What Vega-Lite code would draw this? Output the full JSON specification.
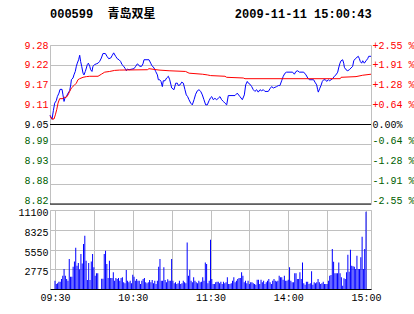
{
  "$schema": "https://vega.github.io/schema/vega-lite/v6.json",
  "background": "#ffffff",
  "padding": {"left": 17, "top": 7, "right": 0, "bottom": 0},
  "config": {
    "font": "Liberation Mono",
    "view": {"stroke": "#c0c0c0"},
    "axis": {"gridColor": "#c0c0c0", "gridWidth": 1, "labelFont": "Liberation Mono", "labelFontSize": 10, "ticks": false, "domain": false, "title": null, "labelColor": "#000000"}
  },
  "datasets": {
    "price": [
      {"m":0,"p":9.077},{"m":1.5,"p":9.065},{"m":2.5,"p":9.09},{"m":3.5,"p":9.112},{"m":4.7,"p":9.119},{"m":5.5,"p":9.131},{"m":6.7,"p":9.141},{"m":7.5,"p":9.152},{"m":9,"p":9.152},{"m":9.7,"p":9.136},{"m":10.5,"p":9.117},{"m":11.2,"p":9.127},{"m":12.2,"p":9.131},{"m":13.5,"p":9.141},{"m":14.7,"p":9.148},{"m":15.5,"p":9.165},{"m":16,"p":9.18},{"m":17.2,"p":9.185},{"m":17.9,"p":9.194},{"m":18.9,"p":9.204},{"m":19.7,"p":9.219},{"m":20.4,"p":9.228},{"m":21.4,"p":9.238},{"m":22.2,"p":9.251},{"m":22.9,"p":9.233},{"m":23.7,"p":9.219},{"m":24.7,"p":9.199},{"m":25.4,"p":9.194},{"m":26.4,"p":9.204},{"m":27.2,"p":9.214},{"m":27.9,"p":9.224},{"m":28.7,"p":9.228},{"m":29.7,"p":9.219},{"m":30.4,"p":9.209},{"m":31.4,"p":9.204},{"m":32.1,"p":9.219},{"m":33.4,"p":9.224},{"m":34.6,"p":9.226},{"m":35.9,"p":9.228},{"m":37.1,"p":9.233},{"m":38.4,"p":9.243},{"m":39.6,"p":9.256},{"m":41.4,"p":9.256},{"m":42.6,"p":9.248},{"m":43.9,"p":9.241},{"m":45.4,"p":9.243},{"m":46.6,"p":9.251},{"m":47.6,"p":9.258},{"m":49.1,"p":9.248},{"m":50.3,"p":9.241},{"m":51.6,"p":9.238},{"m":52.8,"p":9.233},{"m":53.8,"p":9.224},{"m":55.1,"p":9.219},{"m":56.3,"p":9.212},{"m":57.1,"p":9.206},{"m":57.8,"p":9.211},{"m":59.1,"p":9.209},{"m":62.8,"p":9.212},{"m":64.1,"p":9.219},{"m":65.3,"p":9.226},{"m":66.1,"p":9.224},{"m":67,"p":9.219},{"m":68.5,"p":9.219},{"m":69.5,"p":9.226},{"m":70.3,"p":9.238},{"m":74,"p":9.238},{"m":75.3,"p":9.228},{"m":76,"p":9.222},{"m":77.8,"p":9.214},{"m":79,"p":9.204},{"m":80.3,"p":9.194},{"m":81,"p":9.18},{"m":82,"p":9.18},{"m":83,"p":9.175},{"m":84,"p":9.16},{"m":84.7,"p":9.177},{"m":86,"p":9.177},{"m":87.2,"p":9.185},{"m":88.5,"p":9.19},{"m":89.5,"p":9.18},{"m":91,"p":9.156},{"m":92.7,"p":9.151},{"m":94,"p":9.17},{"m":95.2,"p":9.17},{"m":96,"p":9.163},{"m":97.2,"p":9.165},{"m":98.5,"p":9.173},{"m":99.7,"p":9.17},{"m":100.9,"p":9.151},{"m":101.9,"p":9.136},{"m":102.9,"p":9.131},{"m":103.9,"p":9.122},{"m":105.2,"p":9.112},{"m":106.4,"p":9.107},{"m":107.7,"p":9.122},{"m":108.9,"p":9.138},{"m":110.2,"p":9.148},{"m":111.4,"p":9.151},{"m":112.7,"p":9.146},{"m":113.9,"p":9.136},{"m":115.1,"p":9.122},{"m":116.4,"p":9.107},{"m":117.6,"p":9.107},{"m":118.9,"p":9.119},{"m":120.1,"p":9.128},{"m":120.9,"p":9.131},{"m":122.1,"p":9.122},{"m":123.3,"p":9.126},{"m":124.6,"p":9.122},{"m":125.8,"p":9.126},{"m":127.1,"p":9.131},{"m":128.3,"p":9.122},{"m":129.6,"p":9.117},{"m":130.8,"p":9.112},{"m":132.1,"p":9.107},{"m":133.3,"p":9.134},{"m":138.3,"p":9.134},{"m":140,"p":9.141},{"m":142,"p":9.131},{"m":143.8,"p":9.122},{"m":145.3,"p":9.136},{"m":146.3,"p":9.165},{"m":147.5,"p":9.175},{"m":148.3,"p":9.17},{"m":149.5,"p":9.167},{"m":150.8,"p":9.16},{"m":152,"p":9.151},{"m":153.2,"p":9.146},{"m":154.5,"p":9.151},{"m":155.7,"p":9.144},{"m":157,"p":9.151},{"m":158.2,"p":9.148},{"m":159.5,"p":9.151},{"m":160.7,"p":9.146},{"m":163.2,"p":9.146},{"m":164.5,"p":9.154},{"m":165.7,"p":9.16},{"m":167,"p":9.156},{"m":168.2,"p":9.158},{"m":169.4,"p":9.16},{"m":170.7,"p":9.163},{"m":171.9,"p":9.163},{"m":173.2,"p":9.177},{"m":174.4,"p":9.19},{"m":175.7,"p":9.199},{"m":176.9,"p":9.202},{"m":181.4,"p":9.202},{"m":182.7,"p":9.196},{"m":183.9,"p":9.204},{"m":185.2,"p":9.206},{"m":186.4,"p":9.202},{"m":189.7,"p":9.202},{"m":191.4,"p":9.194},{"m":192.7,"p":9.185},{"m":193.9,"p":9.18},{"m":197.1,"p":9.18},{"m":198.1,"p":9.173},{"m":199.4,"p":9.165},{"m":200.1,"p":9.151},{"m":200.6,"p":9.144},{"m":201.6,"p":9.154},{"m":202.6,"p":9.163},{"m":203.6,"p":9.175},{"m":204.6,"p":9.18},{"m":205.9,"p":9.18},{"m":206.9,"p":9.175},{"m":208.1,"p":9.18},{"m":209.1,"p":9.177},{"m":210.1,"p":9.18},{"m":211.3,"p":9.183},{"m":212.6,"p":9.19},{"m":213.8,"p":9.194},{"m":215.1,"p":9.202},{"m":215.8,"p":9.214},{"m":216.8,"p":9.228},{"m":217.6,"p":9.235},{"m":218.8,"p":9.238},{"m":219.6,"p":9.228},{"m":220.1,"p":9.216},{"m":221.3,"p":9.209},{"m":222.6,"p":9.206},{"m":223.8,"p":9.209},{"m":225.1,"p":9.214},{"m":226.3,"p":9.219},{"m":227.1,"p":9.235},{"m":228.3,"p":9.241},{"m":229.5,"p":9.245},{"m":230.5,"p":9.248},{"m":231.3,"p":9.241},{"m":232,"p":9.233},{"m":233,"p":9.228},{"m":233.8,"p":9.235},{"m":235,"p":9.228},{"m":236.3,"p":9.235},{"m":237.5,"p":9.241},{"m":238.3,"p":9.248},{"m":240,"p":9.248}
    ],
    "avg": [
      {"m":0,"a":9.075},{"m":1.5,"a":9.066},{"m":3,"a":9.066},{"m":4,"a":9.078},{"m":5,"a":9.093},{"m":6,"a":9.112},{"m":7.2,"a":9.125},{"m":9.7,"a":9.125},{"m":10.5,"a":9.129},{"m":12.2,"a":9.129},{"m":13.5,"a":9.136},{"m":14.7,"a":9.146},{"m":16,"a":9.156},{"m":17.9,"a":9.163},{"m":19.7,"a":9.17},{"m":20.9,"a":9.18},{"m":22.2,"a":9.183},{"m":24.7,"a":9.187},{"m":27.2,"a":9.189},{"m":29.7,"a":9.19},{"m":35.9,"a":9.19},{"m":38.4,"a":9.196},{"m":40.9,"a":9.202},{"m":44.6,"a":9.204},{"m":48.3,"a":9.207},{"m":52.1,"a":9.208},{"m":72.8,"a":9.209},{"m":74,"a":9.212},{"m":81.5,"a":9.208},{"m":89,"a":9.206},{"m":101.4,"a":9.204},{"m":104,"a":9.199},{"m":113.9,"a":9.196},{"m":117.6,"a":9.194},{"m":120.1,"a":9.192},{"m":130.8,"a":9.19},{"m":132.1,"a":9.187},{"m":144.5,"a":9.185},{"m":145.8,"a":9.183},{"m":217,"a":9.183},{"m":217.6,"a":9.187},{"m":228.8,"a":9.189},{"m":233.8,"a":9.193},{"m":240,"a":9.196}
    ],
    "vol": [
      {"m":0,"v":1170},{"m":1,"v":700},{"m":2,"v":800},{"m":3,"v":1030},{"m":4,"v":1030},{"m":5,"v":1400},{"m":6,"v":1870},{"m":7,"v":2800},{"m":8,"v":1870},{"m":9,"v":1400},{"m":10,"v":1170},{"m":11,"v":4200},{"m":12,"v":1730},{"m":13,"v":1730},{"m":14,"v":3140},{"m":15,"v":3880},{"m":16,"v":5800},{"m":17,"v":3280},{"m":18,"v":3650},{"m":19,"v":2760},{"m":20,"v":4910},{"m":21,"v":3600},{"m":22,"v":6320},{"m":23,"v":7490},{"m":24,"v":3980},{"m":25,"v":1260},{"m":26,"v":3650},{"m":27,"v":1260},{"m":28,"v":3880},{"m":29,"v":4910},{"m":30,"v":3040},{"m":31,"v":1870},{"m":32,"v":2200},{"m":33,"v":2200},{"m":34,"v":0},{"m":35,"v":0},{"m":36,"v":1450},{"m":37,"v":1450},{"m":38,"v":4910},{"m":39,"v":5380},{"m":40,"v":3510},{"m":41,"v":1540},{"m":42,"v":3980},{"m":43,"v":1540},{"m":44,"v":1540},{"m":45,"v":2340},{"m":46,"v":1170},{"m":47,"v":1540},{"m":48,"v":1400},{"m":49,"v":1540},{"m":50,"v":1170},{"m":51,"v":1540},{"m":52,"v":1640},{"m":53,"v":940},{"m":54,"v":800},{"m":55,"v":2670},{"m":56,"v":1170},{"m":57,"v":940},{"m":58,"v":1170},{"m":59,"v":800},
      {"m":60,"v":2010},{"m":61,"v":1730},{"m":62,"v":1170},{"m":63,"v":1400},{"m":64,"v":1170},{"m":65,"v":1170},{"m":66,"v":700},{"m":67,"v":1170},{"m":68,"v":1400},{"m":69,"v":1540},{"m":70,"v":940},{"m":71,"v":800},{"m":72,"v":940},{"m":73,"v":1260},{"m":74,"v":940},{"m":75,"v":1260},{"m":76,"v":800},{"m":77,"v":1170},{"m":78,"v":700},{"m":79,"v":1170},{"m":80,"v":3140},{"m":81,"v":4210},{"m":82,"v":1170},{"m":83,"v":1170},{"m":84,"v":3040},{"m":85,"v":1260},{"m":86,"v":940},{"m":87,"v":1360},{"m":88,"v":1170},{"m":89,"v":1170},{"m":90,"v":4210},{"m":91,"v":1170},{"m":92,"v":800},{"m":93,"v":940},{"m":94,"v":700},{"m":95,"v":800},{"m":96,"v":1170},{"m":97,"v":700},{"m":98,"v":800},{"m":99,"v":1170},{"m":100,"v":940},{"m":101,"v":800},{"m":102,"v":6550},{"m":103,"v":1870},{"m":104,"v":2710},{"m":105,"v":1170},{"m":106,"v":940},{"m":107,"v":1640},{"m":108,"v":1170},{"m":109,"v":940},{"m":110,"v":800},{"m":111,"v":1170},{"m":112,"v":940},{"m":113,"v":1030},{"m":114,"v":1640},{"m":115,"v":1170},{"m":116,"v":3740},{"m":117,"v":3510},{"m":118,"v":800},{"m":119,"v":1170},
      {"m":120,"v":6930},{"m":121,"v":1400},{"m":122,"v":700},{"m":123,"v":700},{"m":124,"v":940},{"m":125,"v":1030},{"m":126,"v":1030},{"m":127,"v":800},{"m":128,"v":1030},{"m":129,"v":700},{"m":130,"v":1030},{"m":131,"v":800},{"m":132,"v":940},{"m":133,"v":1640},{"m":134,"v":700},{"m":135,"v":700},{"m":136,"v":800},{"m":137,"v":1170},{"m":138,"v":1640},{"m":139,"v":940},{"m":140,"v":1170},{"m":141,"v":1400},{"m":142,"v":1540},{"m":143,"v":1540},{"m":144,"v":2340},{"m":145,"v":1870},{"m":146,"v":940},{"m":147,"v":1170},{"m":148,"v":800},{"m":149,"v":1170},{"m":150,"v":700},{"m":151,"v":940},{"m":152,"v":940},{"m":153,"v":800},{"m":154,"v":700},{"m":155,"v":600},{"m":156,"v":1310},{"m":157,"v":1310},{"m":158,"v":700},{"m":159,"v":1310},{"m":160,"v":940},{"m":161,"v":1170},{"m":162,"v":700},{"m":163,"v":940},{"m":164,"v":1170},{"m":165,"v":1400},{"m":166,"v":940},{"m":167,"v":700},{"m":168,"v":1170},{"m":169,"v":1400},{"m":170,"v":1170},{"m":171,"v":1060},{"m":172,"v":1170},{"m":173,"v":1870},{"m":174,"v":1640},{"m":175,"v":1640},{"m":176,"v":1310},{"m":177,"v":1870},{"m":178,"v":1170},{"m":179,"v":1170},
      {"m":180,"v":1310},{"m":181,"v":3040},{"m":182,"v":1170},{"m":183,"v":940},{"m":184,"v":940},{"m":185,"v":2200},{"m":186,"v":2200},{"m":187,"v":1400},{"m":188,"v":1400},{"m":189,"v":2340},{"m":190,"v":1400},{"m":191,"v":3740},{"m":192,"v":800},{"m":193,"v":610},{"m":194,"v":1030},{"m":195,"v":1030},{"m":196,"v":700},{"m":197,"v":800},{"m":198,"v":2480},{"m":199,"v":610},{"m":200,"v":940},{"m":201,"v":800},{"m":202,"v":940},{"m":203,"v":1400},{"m":204,"v":940},{"m":205,"v":700},{"m":206,"v":800},{"m":207,"v":1030},{"m":208,"v":700},{"m":209,"v":700},{"m":210,"v":700},{"m":211,"v":1170},{"m":212,"v":1870},{"m":213,"v":1970},{"m":214,"v":5620},{"m":215,"v":3840},{"m":216,"v":2200},{"m":217,"v":2200},{"m":218,"v":2200},{"m":219,"v":3740},{"m":220,"v":2200},{"m":221,"v":1640},{"m":222,"v":470},{"m":223,"v":1500},{"m":224,"v":1400},{"m":225,"v":2340},{"m":226,"v":4820},{"m":227,"v":2430},{"m":228,"v":5520},{"m":229,"v":3280},{"m":230,"v":3180},{"m":231,"v":3140},{"m":232,"v":2810},{"m":233,"v":4680},{"m":234,"v":2810},{"m":235,"v":2810},{"m":236,"v":4450},{"m":237,"v":7350},{"m":238,"v":2810},{"m":239,"v":5620},{"m":240,"v":10860}
    ]
  },
  "vconcat": [
    {
      "width": 321,
      "height": 159,
      "title": {
        "text": "000599\u00a0\u00a0青岛双星\u00a0\u00a0\u00a0\u00a0\u00a0\u00a0\u00a0\u00a0\u00a0\u00a0\u00a02009-11-11\u00a015:00:43",
        "anchor": "start",
        "frame": "group",
        "font": "Liberation Mono, Noto Sans CJK SC",
        "fontSize": 12,
        "fontWeight": "bold",
        "color": "#000000",
        "offset": 19
      },
      "resolve": {"axis": {"y": "independent"}},
      "layer": [
        {
          "data": {"values": [{}]},
          "mark": {"type": "rule", "color": "#000000", "strokeWidth": 1},
          "encoding": {"y": {"datum": 9.05, "type": "quantitative", "scale": {"domain": [8.8192, 9.2808], "nice": false, "zero": false}, "axis": null}}
        },
        {
          "data": {"values": [{}]},
          "mark": {"type": "rule", "color": "#000000", "strokeWidth": 1},
          "encoding": {"y": {"datum": 8.8192, "type": "quantitative", "axis": null}}
        },
        {
          "data": {"name": "price"},
          "mark": {"type": "line", "color": "#0000ff", "strokeWidth": 1},
          "encoding": {
            "x": {"field": "m", "type": "quantitative", "scale": {"domain": [0, 240], "nice": false, "zero": false},
                  "axis": {"values": [0, 30, 60, 90, 120, 150, 180, 210, 240], "labels": false, "grid": true, "domain": false, "ticks": false, "labelPadding": 0}},
            "y": {"field": "p", "type": "quantitative",
                  "axis": {"orient": "left", "values": [8.8192, 8.8769, 8.9346, 8.9923, 9.05, 9.1077, 9.1654, 9.2231, 9.2808], "format": ".2f", "grid": true, "labelPadding": 2,
                           "labelColor": {"condition": [{"test": "datum.value > 9.06", "value": "#ff0000"}, {"test": "datum.value < 9.04", "value": "#006000"}], "value": "#000000"},
                           "labelOffset": {"condition": {"test": "datum.value < 9.04", "value": -4}, "value": 0}}}
          }
        },
        {
          "data": {"name": "avg"},
          "mark": {"type": "line", "color": "#ff0000", "strokeWidth": 1},
          "encoding": {
            "x": {"field": "m", "type": "quantitative", "axis": null},
            "y": {"field": "a", "type": "quantitative",
                  "axis": {"orient": "right", "values": [8.8192, 8.8769, 8.9346, 8.9923, 9.05, 9.1077, 9.1654, 9.2231, 9.2808], "grid": false, "labelPadding": 1, "labelAlign": "left",
                           "labelExpr": "datum.value > 9.06 ? '+' + format((datum.value / 9.05 - 1) * 100, '.2f') + '\u00a0%' : datum.value < 9.04 ? '-' + format((1 - datum.value / 9.05) * 100, '.2f') + '\u00a0%' : '\u00a00.00%'",
                           "labelColor": {"condition": [{"test": "datum.value > 9.06", "value": "#ff0000"}, {"test": "datum.value < 9.04", "value": "#006000"}], "value": "#000000"},
                           "labelOffset": {"condition": {"test": "datum.value < 9.04", "value": -4}, "value": 0}}}
          }
        }
      ]
    },
    {
      "width": 321,
      "height": 79,
      "data": {"name": "vol"},
      "mark": {"type": "bar", "color": "#0000ff", "size": 1},
      "encoding": {
        "x": {"field": "m", "type": "quantitative", "scale": {"domain": [0, 240], "nice": false, "zero": false},
              "axis": {"values": [0, 30, 60, 90, 120, 150, 180, 210, 240], "grid": true, "domain": true, "domainColor": "#000000", "ticks": false, "labelPadding": 3, "labelFlush": false,
                       "labelExpr": "datum.value == 0 ? '09:30' : datum.value == 60 ? '10:30' : datum.value == 120 ? '11:30' : datum.value == 180 ? '14:00' : datum.value == 240 ? '15:00' : ''"}},
        "y": {"field": "v", "type": "quantitative", "scale": {"domain": [0, 11100], "nice": false},
              "axis": {"values": [0, 2775, 5550, 8325, 11100], "format": "d", "grid": true, "labelPadding": 2, "labelOffset": 2.5,
                       "labelExpr": "datum.value == 0 ? '' : datum.label"}}
      }
    }
  ],
  "spacing": 1
}
